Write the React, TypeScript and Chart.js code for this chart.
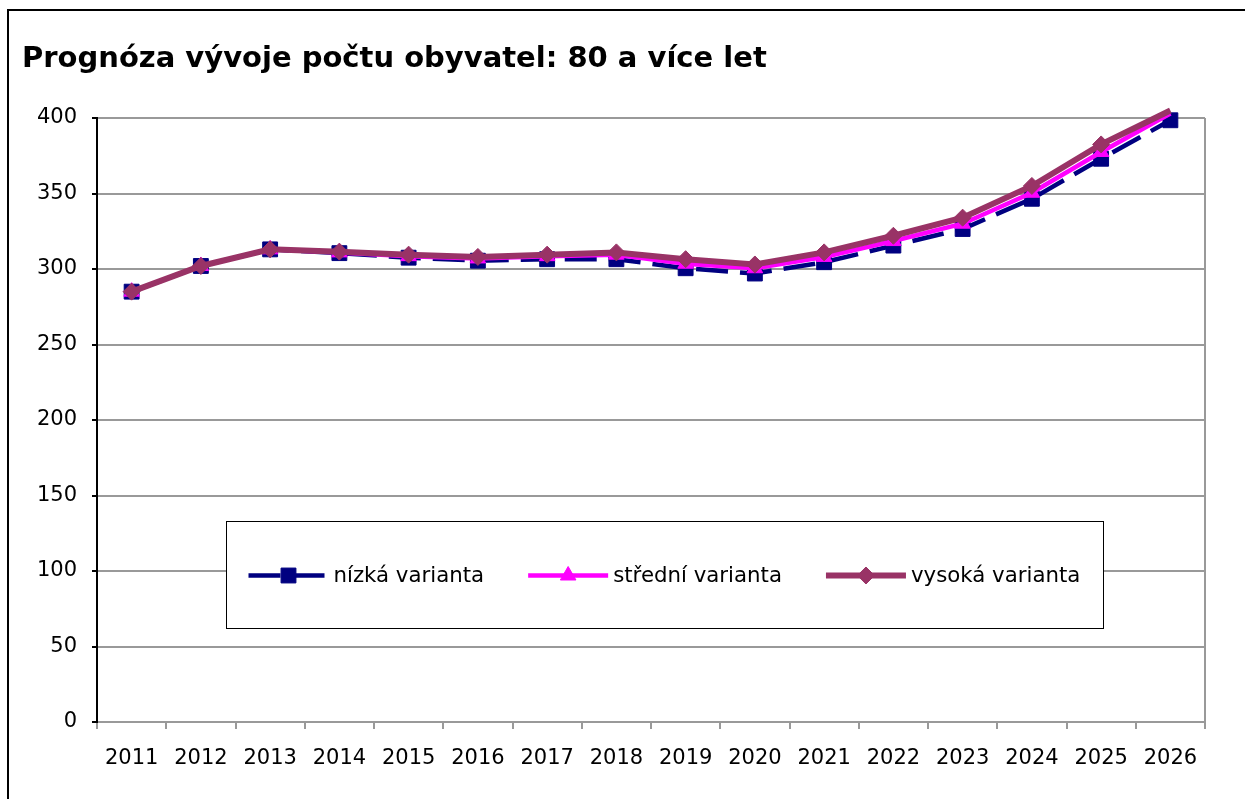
import React, { useEffect, useRef } from "react";
import { Chart, registerables } from "chart.js";

Chart.register(...registerables);

const TITLE = "Prognóza vývoje počtu obyvatel: 80 a více let";
const YEARS = ["2011", "2012", "2013", "2014", "2015", "2016", "2017", "2018", "2019", "2020", "2021", "2022", "2023", "2024", "2025", "2026"];
const LOW = [285, 302, 313, 310.5, 307.5, 305.5, 306.5, 306.5, 300.5, 297, 304.5, 315.5, 326.5, 346.5, 373, 398.5];
const MID = [285, 302, 313, 311, 308.5, 307, 308.5, 309.5, 303.5, 300.5, 308, 318.5, 330, 350.5, 377.5, 403];
const HIGH = [285, 302, 313, 311.5, 309.5, 308, 309.5, 311, 306.5, 303, 311, 322, 334, 355, 382.5, 405];
const SERIES_NAMES = ["nízká varianta", "střední varianta", "vysoká varianta"];
const Y_MIN = 0;
const Y_MAX = 400;
const Y_STEP = 50;

const FONT = "'DejaVu Sans', Verdana, sans-serif";
const NAVY = "#000080";
const MAGENTA = "#FF00FF";
const PLUM = "#993366";
const GRID = "#999999";

function drawMarker(ctx: CanvasRenderingContext2D, style: string, x: number, y: number, r: number, color: string) {
  ctx.save();
  ctx.fillStyle = color;
  ctx.strokeStyle = color;
  ctx.lineWidth = 1;
  ctx.setLineDash([]);
  ctx.beginPath();
  if (style === "rect") {
    const s = Math.SQRT1_2 * r;
    ctx.rect(x - s, y - s, 2 * s, 2 * s);
  } else if (style === "triangle") {
    ctx.moveTo(x, y - r);
    ctx.lineTo(x + r * 0.866, y + r / 2);
    ctx.lineTo(x - r * 0.866, y + r / 2);
    ctx.closePath();
  } else {
    ctx.moveTo(x - r, y);
    ctx.lineTo(x, y - r);
    ctx.lineTo(x + r, y);
    ctx.lineTo(x, y + r);
    ctx.closePath();
  }
  ctx.fill();
  ctx.stroke();
  ctx.restore();
}

const backgroundPlugin = {
  id: "bgFrame",
  beforeDraw(chart: any) {
    const ctx = chart.ctx as CanvasRenderingContext2D;
    ctx.save();
    ctx.fillStyle = "#ffffff";
    ctx.fillRect(0, 0, chart.width, chart.height);
    ctx.strokeStyle = "#000000";
    ctx.lineWidth = 2;
    ctx.strokeRect(8, 10, chart.width + 50, chart.height + 50);
    ctx.font = `bold 29px ${FONT}`;
    ctx.fillStyle = "#000000";
    ctx.textBaseline = "alphabetic";
    ctx.textAlign = "left";
    ctx.fillText(TITLE, 22, 67);
    ctx.restore();
  },
  beforeDatasetsDraw(chart: any) {
    const ctx = chart.ctx as CanvasRenderingContext2D;
    const a = chart.chartArea;
    ctx.save();
    ctx.strokeStyle = GRID;
    ctx.lineWidth = 2;
    ctx.beginPath();
    ctx.moveTo(a.right, a.top);
    ctx.lineTo(a.right, a.bottom + 7);
    ctx.stroke();
    ctx.restore();
  },
};

const legendPlugin = {
  id: "boxLegend",
  afterDatasetsDraw(chart: any) {
    const ctx = chart.ctx as CanvasRenderingContext2D;
    const a = chart.chartArea;
    const w = a.right - a.left;
    const h = a.bottom - a.top;
    const left = Math.round(a.left + w * 0.1164) + 0.5;
    const right = Math.round(a.left + w * 0.9075) + 0.5;
    const top = Math.round(a.top + h * 0.667) + 0.5;
    const bottom = Math.round(a.top + h * 0.844) + 0.5;
    ctx.save();
    ctx.fillStyle = "#ffffff";
    ctx.fillRect(left, top, right - left, bottom - top);
    ctx.strokeStyle = "#000000";
    ctx.lineWidth = 1;
    ctx.strokeRect(left, top, right - left, bottom - top);
    const cy = Math.round((top + bottom) / 2) + 0.5;
    ctx.font = `21.3px ${FONT}`;
    ctx.textBaseline = "middle";
    ctx.textAlign = "left";
    let x = left + 22;
    const sample = 80;
    chart.data.datasets.forEach((ds: any) => {
      ctx.save();
      ctx.strokeStyle = ds.borderColor;
      ctx.lineWidth = ds.borderWidth;
      ctx.setLineDash(ds.borderDash || []);
      ctx.beginPath();
      ctx.moveTo(x, cy);
      ctx.lineTo(x + sample, cy);
      ctx.stroke();
      ctx.restore();
      drawMarker(ctx, ds.pointStyle, x + sample / 2, cy, ds.legendRadius, ds.pointBackgroundColor);
      ctx.fillStyle = "#000000";
      ctx.fillText(ds.label, x + sample + 5, cy + 1);
      x += sample + 5 + ctx.measureText(ds.label).width + 44;
    });
    ctx.restore();
  },
};

function radiusFor(r: number) {
  return (c: any) => (typeof c.raw === "number" && c.raw > Y_MAX ? 0 : r);
}

export default function App() {
  const ref = useRef<HTMLCanvasElement>(null);
  useEffect(() => {
    const canvas = ref.current;
    if (!canvas) return;
    const clip = { left: 10, top: 12, right: 10, bottom: 10 };
    const chart = new Chart(canvas, {
      type: "line",
      data: {
        labels: YEARS,
        datasets: [
          {
            label: SERIES_NAMES[0],
            data: LOW,
            borderColor: NAVY,
            backgroundColor: NAVY,
            borderWidth: 4.5,
            borderDash: [32, 12],
            pointStyle: "rect",
            pointRadius: radiusFor(10.5),
            pointBackgroundColor: NAVY,
            pointBorderColor: NAVY,
            pointBorderWidth: 1,
            legendRadius: 10.5,
            order: 3,
            tension: 0,
            clip,
          } as any,
          {
            label: SERIES_NAMES[1],
            data: MID,
            borderColor: MAGENTA,
            backgroundColor: MAGENTA,
            borderWidth: 4.5,
            pointStyle: "triangle",
            pointRadius: radiusFor(9),
            pointBackgroundColor: MAGENTA,
            pointBorderColor: MAGENTA,
            pointBorderWidth: 1,
            legendRadius: 9,
            order: 2,
            tension: 0,
            clip,
          } as any,
          {
            label: SERIES_NAMES[2],
            data: HIGH,
            borderColor: PLUM,
            backgroundColor: PLUM,
            borderWidth: 6,
            pointStyle: "rectRot",
            pointRadius: radiusFor(8.5),
            pointBackgroundColor: PLUM,
            pointBorderColor: PLUM,
            pointBorderWidth: 1,
            legendRadius: 8.5,
            order: 1,
            tension: 0,
            clip,
          } as any,
        ],
      },
      options: {
        responsive: false,
        animation: false,
        devicePixelRatio: 1,
        layout: { padding: { top: 118, right: 40, bottom: 0, left: 0 } },
        plugins: {
          legend: { display: false },
          title: { display: false },
          tooltip: { enabled: false },
        },
        scales: {
          x: {
            type: "category",
            offset: true,
            grid: {
              drawOnChartArea: false,
              drawTicks: true,
              tickLength: 7,
              color: GRID,
              tickColor: GRID,
              lineWidth: 2,
              tickWidth: 2,
              offset: true,
            },
            border: { color: GRID, width: 2 },
            ticks: {
              font: { family: FONT, size: 21 },
              color: "#000000",
              padding: 17,
              maxRotation: 0,
              autoSkip: false,
            },
            afterFit: (s: any) => {
              s.height = 77;
            },
          },
          y: {
            min: Y_MIN,
            max: Y_MAX,
            ticks: {
              stepSize: Y_STEP,
              font: { family: FONT, size: 21 },
              color: "#000000",
              padding: 15,
            },
            grid: {
              color: GRID,
              lineWidth: 2,
              tickColor: "#000000",
              tickLength: 5,
              tickWidth: 2,
            },
            border: { color: "#000000", width: 2 },
            afterFit: (s: any) => {
              s.width = 97;
            },
          },
        },
      } as any,
      plugins: [backgroundPlugin, legendPlugin],
    });
    return () => chart.destroy();
  }, []);
  return (
    <div style={{ position: "fixed", left: 0, top: 0, width: 1245, height: 799, overflow: "hidden", background: "#fff" }}>
      <canvas ref={ref} width={1245} height={799} style={{ display: "block", width: 1245, height: 799 }} />
    </div>
  );
}
